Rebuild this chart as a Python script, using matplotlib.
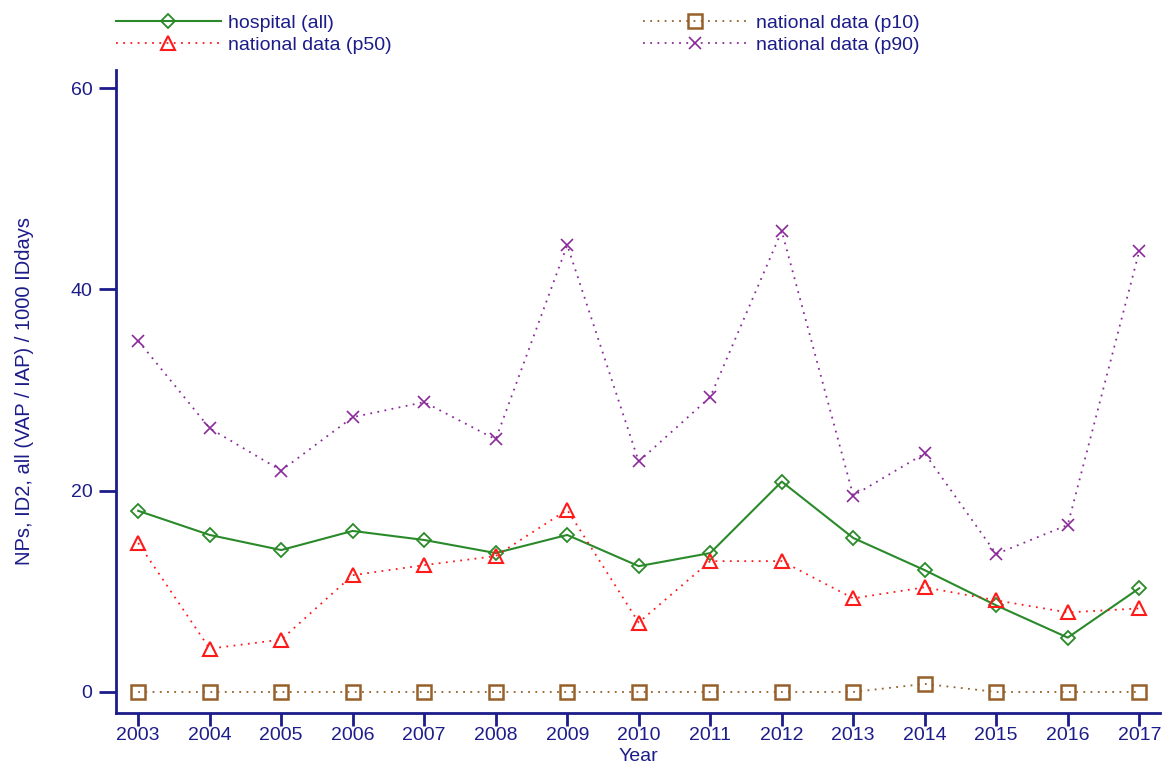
import matplotlib
matplotlib.use("Agg")
import matplotlib.pyplot as plt

years = list(range(2003, 2018))
hospital = [18.0, 15.6, 14.1, 16.0, 15.1, 13.8, 15.6, 12.5, 13.8, 20.9, 15.3, 12.1, 8.6, 5.4, 10.3]
p10 = [0, 0, 0, 0, 0, 0, 0, 0, 0, 0, 0, 0.8, 0, 0, 0]
p50 = [14.8, 4.3, 5.2, 11.6, 12.6, 13.5, 18.1, 6.9, 13.0, 13.0, 9.3, 10.4, 9.1, 7.9, 8.3]
p90 = [34.9, 26.2, 22.0, 27.3, 28.8, 25.1, 44.4, 22.9, 29.3, 45.8, 19.5, 23.7, 13.7, 16.6, 43.8]
yticks = [0, 20, 40, 60]

navy = "#1c1c8a"
plt.rcParams["font.family"] = ["Liberation Sans", "DejaVu Sans"]

fig = plt.figure(figsize=(11.67, 7.65), dpi=100)
ax = fig.add_axes([0.0994, 0.068, 0.8946, 0.8405])

h1, = ax.plot(years, hospital, color="#2a8a2a", lw=1.5, ls="-", marker="D", ms=7,
              mfc="none", mec="#2a8a2a", mew=1.3, label="hospital (all)")
h2, = ax.plot(years, p50, color="#ff1a1a", lw=1.3, ls=(0, (1, 3)), marker="^", ms=10,
              mfc="none", mec="#ff1a1a", mew=1.5, label="national data (p50)")
h3, = ax.plot(years, p10, color="#96602a", lw=1.3, ls=(0, (1, 3)), marker="s", ms=10,
              mfc="none", mec="#96602a", mew=1.8, label="national data (p10)")
h4, = ax.plot(years, p90, color="#8a2a9a", lw=1.3, ls=(0, (1, 3)), marker="x", ms=9,
              mec="#8a2a9a", mew=1.2, label="national data (p90)")

ax.set_xlim(2002.69, 2017.29)
ax.set_ylim(-2.09, 61.8)
ax.set_xticks(years)
ax.set_yticks(yticks)
for s in ["top", "right"]:
    ax.spines[s].set_visible(False)
for s in ["left", "bottom"]:
    ax.spines[s].set_color(navy)
    ax.spines[s].set_linewidth(2)
ax.tick_params(axis="both", colors=navy, labelcolor=navy, labelsize=14,
               width=2, direction="out")
ax.tick_params(axis="x", length=9, pad=1)
ax.tick_params(axis="y", length=12, pad=5)
ax.set_xlabel("Year", color=navy, fontsize=14, labelpad=3)
ax.set_ylabel("NPs, ID2, all (VAP / IAP) / 1000 IDdays", color=navy, fontsize=14.5, labelpad=26)

fig.legend(handles=[h1, h2, h3, h4], ncol=2, loc="upper left",
           bbox_to_anchor=(0.084, 1.004), frameon=False, fontsize=14,
           handlelength=5.4, handletextpad=0.4, columnspacing=12.9,
           labelspacing=0.22, labelcolor=navy)

fig.savefig("out.png", dpi=100)
